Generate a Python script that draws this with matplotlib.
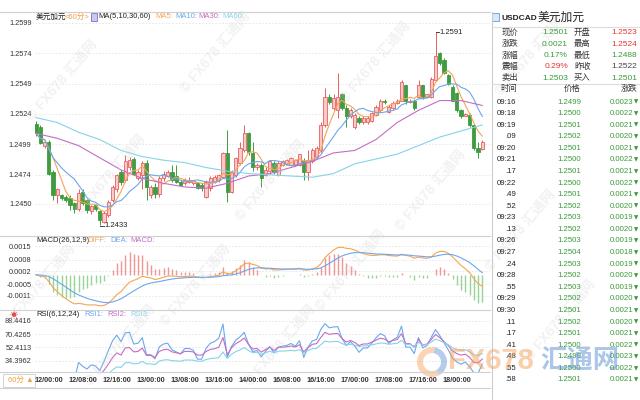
import matplotlib
matplotlib.use("Agg")
import matplotlib.pyplot as plt
from matplotlib.lines import Line2D
from matplotlib.patches import Rectangle, Wedge
from matplotlib.transforms import IdentityTransform
import pandas as pd

plt.rcParams['font.family'] = ['Liberation Sans', 'Noto Sans CJK SC', 'DejaVu Sans']

# 60 minute candles, USDCAD
opens = [1.2516, 1.2513, 1.2498, 1.2501, 1.2476, 1.2457, 1.2457, 1.2456, 1.2455, 1.2451,
         1.2446, 1.2460, 1.2453, 1.2444, 1.2449, 1.2444, 1.2435, 1.2441, 1.2453, 1.2462,
         1.2476, 1.2470, 1.2480, 1.2487, 1.2471, 1.2474, 1.2484, 1.2457, 1.2464, 1.2458,
         1.2471, 1.2473, 1.2476, 1.2473, 1.2468, 1.2467, 1.2468, 1.2467, 1.2467, 1.2466,
         1.2456, 1.2463, 1.2468, 1.2470, 1.2472, 1.2492, 1.2460, 1.2474, 1.2484, 1.2494,
         1.2508, 1.2492, 1.2480, 1.2482, 1.2474, 1.2477, 1.2484, 1.2474, 1.2482, 1.2483,
         1.2482, 1.2482, 1.2482, 1.2485, 1.2476, 1.2485, 1.2489, 1.2494, 1.2515, 1.2538,
         1.2529, 1.2527, 1.2540, 1.2529, 1.2522, 1.2513, 1.2521, 1.2517, 1.2517, 1.2518,
         1.2523, 1.2527, 1.2535, 1.2526, 1.2529, 1.2533, 1.2535, 1.2548, 1.2534, 1.2535,
         1.2538, 1.2548, 1.2538, 1.2538, 1.2552, 1.2574, 1.2568, 1.2556, 1.2546, 1.2541,
         1.2527, 1.2522, 1.2523, 1.2515, 1.2496, 1.2495]
highs = [1.2518, 1.2515, 1.2503, 1.2503, 1.2478, 1.2463, 1.2458, 1.2457, 1.2457, 1.2452,
         1.2462, 1.2462, 1.2454, 1.2449, 1.2450, 1.2445, 1.2444, 1.2453, 1.2466, 1.2475,
         1.2478, 1.2490, 1.2489, 1.2489, 1.2478, 1.2485, 1.2486, 1.2466, 1.2467, 1.2473,
         1.2477, 1.2478, 1.2482, 1.2482, 1.2470, 1.2471, 1.2472, 1.2470, 1.2468, 1.2467,
         1.2470, 1.2473, 1.2474, 1.2475, 1.2493, 1.2511, 1.2478, 1.2489, 1.2501, 1.2515,
         1.2509, 1.2501, 1.2484, 1.2484, 1.2480, 1.2486, 1.2485, 1.2485, 1.2486, 1.2487,
         1.2489, 1.2487, 1.2491, 1.2488, 1.2494, 1.2496, 1.2498, 1.2517, 1.2545, 1.2540,
         1.2540, 1.2558, 1.2541, 1.2531, 1.2529, 1.2525, 1.2522, 1.2522, 1.2522, 1.2526,
         1.2531, 1.2536, 1.2536, 1.2531, 1.2535, 1.2536, 1.2552, 1.2548, 1.2536, 1.2536,
         1.2552, 1.2548, 1.2540, 1.2554, 1.2591, 1.2575, 1.2570, 1.2557, 1.2548, 1.2542,
         1.2528, 1.2525, 1.2525, 1.2516, 1.2501, 1.2503]
lows = [1.2506, 1.2499, 1.2496, 1.2474, 1.2453, 1.2451, 1.2453, 1.2452, 1.2445, 1.2443,
        1.2444, 1.2449, 1.2443, 1.2442, 1.2444, 1.2433, 1.2434, 1.2439, 1.2452, 1.2460,
        1.2466, 1.2468, 1.2478, 1.2474, 1.2470, 1.2462, 1.2453, 1.2455, 1.2455, 1.2456,
        1.2469, 1.2472, 1.2468, 1.2467, 1.2465, 1.2466, 1.2467, 1.2466, 1.2462, 1.2461,
        1.2455, 1.2461, 1.2467, 1.2468, 1.2471, 1.2452, 1.2459, 1.2472, 1.2482, 1.2493,
        1.2490, 1.2477, 1.2478, 1.2464, 1.2473, 1.2475, 1.2475, 1.2473, 1.2481, 1.2482,
        1.2481, 1.2481, 1.2481, 1.2470, 1.2470, 1.2484, 1.2488, 1.2493, 1.2513, 1.2532,
        1.2527, 1.2521, 1.2527, 1.2513, 1.2521, 1.2512, 1.2516, 1.2516, 1.2516, 1.2517,
        1.2522, 1.2526, 1.2532, 1.2525, 1.2528, 1.2532, 1.2535, 1.2532, 1.2533, 1.2527,
        1.2537, 1.2536, 1.2537, 1.2537, 1.2551, 1.2564, 1.2557, 1.2548, 1.2535, 1.2526,
        1.2521, 1.2522, 1.2513, 1.2494, 1.2488, 1.2494]
closes = [1.2508, 1.2500, 1.2501, 1.2475, 1.2457, 1.2462, 1.2455, 1.2453, 1.2449, 1.2446,
          1.2459, 1.2451, 1.2445, 1.2448, 1.2446, 1.2437, 1.2443, 1.2452, 1.2464, 1.2474,
          1.2468, 1.2485, 1.2486, 1.2475, 1.2476, 1.2484, 1.2464, 1.2464, 1.2458, 1.2471,
          1.2475, 1.2476, 1.2470, 1.2468, 1.2466, 1.2470, 1.2470, 1.2469, 1.2463, 1.2463,
          1.2468, 1.2471, 1.2472, 1.2474, 1.2492, 1.2460, 1.2476, 1.2488, 1.2496, 1.2508,
          1.2493, 1.2480, 1.2482, 1.2471, 1.2478, 1.2485, 1.2476, 1.2484, 1.2485, 1.2486,
          1.2488, 1.2486, 1.2491, 1.2476, 1.2486, 1.2494, 1.2496, 1.2515, 1.2538, 1.2534,
          1.2537, 1.2538, 1.2529, 1.2522, 1.2527, 1.2523, 1.2517, 1.2521, 1.2521, 1.2525,
          1.2530, 1.2535, 1.2534, 1.2530, 1.2533, 1.2535, 1.2550, 1.2535, 1.2535, 1.2529,
          1.2548, 1.2537, 1.2540, 1.2553, 1.2572, 1.2566, 1.2558, 1.2549, 1.2535, 1.2527,
          1.2522, 1.2524, 1.2515, 1.2496, 1.2493, 1.2501]

# long averages every 5 candles
ma_idx = list(range(0, 106, 5))
ma30 = [1.2508, 1.2504, 1.2498, 1.2488, 1.2478, 1.2471, 1.2467, 1.2464, 1.2463, 1.2467, 1.2473,
        1.2475, 1.2480, 1.2485, 1.2492, 1.2494, 1.2503, 1.2517, 1.2527, 1.2535, 1.2535, 1.2531]
ma60 = [1.2521, 1.2517, 1.2509, 1.2503, 1.2494, 1.2489, 1.2486, 1.2484, 1.2480, 1.2477, 1.2475,
        1.2474, 1.2473, 1.2472, 1.2475, 1.2483, 1.2487, 1.2491, 1.2498, 1.2505, 1.2510, 1.2515]

time_labels = ['12/00:00', '12/08:00', '12/16:00', '13/00:00', '13/08:00', '13/16:00', '14/00:00',
               '16/08:00', '16/16:00', '17/00:00', '17/08:00', '17/16:00', '18/00:00']
price_ticks = [1.2599, 1.2574, 1.2549, 1.2524, 1.2499, 1.2474, 1.2450]
macd_ticks = [0.0015, 0.0008, 0.0002, -0.0005, -0.0011]
rsi_ticks = [88.4416, 70.4265, 52.4113, 34.3962]

quote_names_l = ['现价', '涨跌', '涨幅', '震幅', '卖出']
quote_vals_l = ['1.2501', '0.0021', '0.17%', '0.29%', '1.2503']
quote_names_r = ['开盘', '最高', '最低', '昨收', '买入']
quote_vals_r = ['1.2523', '1.2524', '1.2488', '1.2522', '1.2501']

tick_times = ['09:16', '09:18', '09:19', '.09', '09:20', '09:21', '.17', '09:22', '.49', '.52',
              '09:23', '.13', '09:26', '09:27', '.24', '09:28', '.55', '09:29', '09:30', '.11',
              '.17', '.41', '.48', '.55', '.58']
tick_prices = ['1.2499', '1.2500', '1.2501', '1.2502', '1.2501', '1.2500', '1.2501', '1.2500',
               '1.2501', '1.2502', '1.2503', '1.2502', '1.2503', '1.2504', '1.2503', '1.2502',
               '1.2503', '1.2502', '1.2501', '1.2502', '1.2501', '1.2500', '1.2499', '1.2500',
               '1.2501']
tick_changes = ['0.0023', '0.0022', '0.0021', '0.0020', '0.0021', '0.0022', '0.0021', '0.0022',
                '0.0021', '0.0020', '0.0019', '0.0020', '0.0019', '0.0018', '0.0019', '0.0020',
                '0.0019', '0.0020', '0.0021', '0.0020', '0.0021', '0.0022', '0.0023', '0.0022',
                '0.0021']

RED_EDGE = '#e8605f'
RED_FACE = '#f9caca'
GREEN = '#3f9c3f'
C_MA5 = '#f3a555'
C_MA10 = '#6aa8ee'
C_MA30 = '#c46cc4'
C_MA60 = '#86d3ea'
TXT_GREEN = '#3a9a3a'
TXT_RED = '#e83535'

W, H = 640, 400
fig = plt.figure(figsize=(6.4, 4), dpi=100)
fig.patch.set_facecolor('white')


def rect(x0, y0, x1, y1):
    return [x0 / W, 1 - y1 / H, (x1 - x0) / W, (y1 - y0) / H]


def ftext(x, y, s, **kw):
    kw.setdefault('va', 'center')
    kw.setdefault('fontsize', 5.5)
    fig.text(x / W, 1 - y / H, s, **kw)


def hline(x0, x1, y, color='#d0d0d0', lw=0.8):
    fig.add_artist(Line2D([x0 / W, x1 / W], [1 - y / H] * 2, color=color, lw=lw,
                          transform=fig.transFigure))


n = len(closes)
xlim = (-1 / 4.25, 454 / 4.25)


def style(ax, ticks, labels, ylim):
    ax.set_xlim(*xlim)
    ax.set_ylim(*ylim)
    ax.set_xticks([])
    ax.set_yticks(ticks)
    ax.set_yticklabels(labels)
    ax.tick_params(axis='y', length=0, pad=2.5, labelsize=5.3, labelcolor='#333333')
    for s in ax.spines.values():
        s.set_visible(False)
    ax.grid(axis='y', color='#e4e4e4', linestyle=(0, (2, 2)), linewidth=0.6)
    ax.set_facecolor('none')


# faint watermarks
for wx, wy in [(62, 80), (215, 52), (375, 62), (530, 55), (110, 175), (270, 180), (430, 190),
               (40, 285), (195, 285), (350, 270), (520, 230), (120, 345), (280, 345), (560, 320)]:
    ftext(wx, wy, '© FX678 汇通网', fontsize=10, rotation=50, color='#d4d4d4', alpha=0.3,
          ha='center', fontweight='bold')

# main price panel
ax = fig.add_axes(rect(35, 12, 490, 236))
style(ax, price_ticks, ['%.4f' % t for t in price_ticks], (1.24237, 1.26078))
for i in range(n):
    o, h, l, c = opens[i], highs[i], lows[i], closes[i]
    up = c >= o
    edge = RED_EDGE if up else GREEN
    ax.vlines(i, l, h, color=edge, lw=0.7, zorder=2)
    ax.add_patch(Rectangle((i - 0.36, min(o, c)), 0.72, max(abs(c - o), 0.00002),
                           facecolor=RED_FACE if up else GREEN, edgecolor=edge, lw=0.6, zorder=3))

cs = pd.Series(closes)
ax.plot(range(n), cs.rolling(5, min_periods=1).mean(), color=C_MA5, lw=0.8, zorder=4)
ax.plot(range(n), cs.rolling(10, min_periods=1).mean(), color=C_MA10, lw=0.8, zorder=4)
ax.plot(ma_idx, ma30, color=C_MA30, lw=0.8, zorder=4)
ax.plot(ma_idx, ma60, color=C_MA60, lw=0.8, zorder=4)

hi = max(range(n), key=lambda k: highs[k])
lo = min(range(n), key=lambda k: lows[k])
ax.plot([hi, hi + 0.9], [highs[hi]] * 2, color='#222222', lw=0.6)
ax.text(hi + 1.0, highs[hi], '%.4f' % highs[hi], fontsize=5.5, va='center', color='#222222')
ax.plot([lo, lo + 0.9], [lows[lo] - 0.0001] * 2, color='#222222', lw=0.6)
ax.text(lo + 1.0, lows[lo] - 0.0001, '%.4f' % lows[lo], fontsize=5.5, va='center', color='#222222')

# MACD panel
diff = cs.ewm(span=12, adjust=False).mean() - cs.ewm(span=26, adjust=False).mean()
dea = diff.ewm(span=9, adjust=False).mean()
hist = 2 * (diff - dea)
ax2 = fig.add_axes(rect(35, 236, 490, 310))
style(ax2, macd_ticks, ['%.4f' % t for t in macd_ticks], (-0.00185, 0.00204))
ax2.vlines(range(n), 0, hist, colors=['#f09595' if v >= 0 else '#98d498' for v in hist], lw=1.0)
ax2.plot(range(n), diff, color=C_MA5, lw=0.8)
ax2.plot(range(n), dea, color=C_MA10, lw=0.8)

# RSI panel
chg = cs.diff()


def rsi(p):
    up = chg.clip(lower=0).ewm(alpha=1 / p, adjust=False).mean()
    tot = chg.abs().ewm(alpha=1 / p, adjust=False).mean()
    return 100 * up / tot


ax3 = fig.add_axes(rect(35, 310, 490, 372))
style(ax3, rsi_ticks, ['%.4f' % t for t in rsi_ticks], (19.0, 103.4))
ax3.plot(range(n), rsi(6), color=C_MA10, lw=0.8)
ax3.plot(range(n), rsi(12), color=C_MA30, lw=0.8)
ax3.plot(range(n), rsi(24), color=C_MA60, lw=0.8)

# time axis
for k, lab in enumerate(time_labels):
    ftext(36 + 4.25 * (3 + 8 * k), 380, lab, ha='center', fontsize=5.2, fontweight='bold',
          color='#333333')

# frame lines
hline(0, 490, 12)
hline(0, 490, 236)
hline(0, 490, 310)
hline(0, 490, 372)
hline(0, 490, 388)
fig.add_artist(Line2D([492 / W] * 2, [0, 1 - 12 / H], color='#cccccc', lw=0.8,
                      transform=fig.transFigure))
fig.add_artist(Rectangle((3 / W, 1 - 387 / H), 32 / W, 13 / H, facecolor='white',
                         edgecolor='#cccccc', lw=0.6, transform=fig.transFigure))
ftext(8, 380, '60分 ▲', color='#f0a040', fontsize=5.5)

# panel titles
ftext(36, 17, '美元加元', color='#222222')
ftext(65, 17, '<60分>', color='#f0a040')
fig.add_artist(Rectangle((91 / W, 1 - 21 / H), 6 / W, 8 / H, facecolor='#c8c8f0',
                         edgecolor='#6060c0', lw=0.5, transform=fig.transFigure))
ftext(98, 17, 'MA(5,10,30,60)', color='#222222')
ftext(155, 17, 'MA5:', color=C_MA5)
ftext(175, 17, 'MA10:', color=C_MA10)
ftext(198, 17, 'MA30:', color=C_MA30)
ftext(222, 17, 'MA60:', color=C_MA60)

ftext(36, 240, 'MACD(26,12,9)', color='#222222')
ftext(87, 240, 'DIFF:', color=C_MA5)
ftext(110, 240, 'DEA:', color=C_MA10)
ftext(130, 240, 'MACD:', color=C_MA30)

ftext(10, 316, '☀', color='#e05050', fontsize=6)
ftext(36, 315, 'RSI(6,12,24)', color='#222222')
ftext(84, 315, 'RSI1:', color=C_MA10)
ftext(107, 315, 'RSI2:', color=C_MA30)
ftext(130, 315, 'RSI3:', color=C_MA60)

# right quote panel
fig.add_artist(Rectangle((492 / W, 1 - 21 / H), 7 / W, 8 / H, facecolor='#d8e8f8',
                         edgecolor='#4a8ad0', lw=0.5, transform=fig.transFigure))
ftext(502, 18, 'USDCAD', fontsize=6, fontweight='bold', color='#222222')
ftext(538, 18, '美元加元', fontsize=8.5, color='#222222')
hline(492, 640, 27, color='#dddddd')
left_cols = [TXT_GREEN, TXT_GREEN, TXT_GREEN, TXT_RED, TXT_GREEN]
right_cols = [TXT_RED, TXT_RED, TXT_GREEN, '#444444', TXT_GREEN]
for k in range(5):
    y = 33 + 11.25 * k
    ftext(502, y, quote_names_l[k], color='#333333', fontsize=6)
    ftext(568, y, quote_vals_l[k], color=left_cols[k], ha='right', fontsize=6)
    ftext(574, y, quote_names_r[k], color='#333333', fontsize=6)
    ftext(637, y, quote_vals_r[k], color=right_cols[k], ha='right', fontsize=6)
hline(492, 640, 84, color='#dddddd')
ftext(500, 89, '时间', color='#333333', fontsize=6)
ftext(572, 89, '价格', color='#333333', fontsize=6, ha='center')
ftext(637, 89, '涨跌', color='#333333', fontsize=6, ha='right')
for k in range(len(tick_times)):
    y = 102 + 11.58 * k
    ftext(516, y, tick_times[k], color='#222222', ha='right', fontsize=5.6)
    ftext(581, y, tick_prices[k], color=TXT_GREEN, ha='right', fontsize=5.6)
    ftext(633, y, tick_changes[k], color=TXT_GREEN, ha='right', fontsize=5.6)
    ftext(634, y, '▼', color=TXT_GREEN, fontsize=4, family='DejaVu Sans')

# big logo bottom right
ident = IdentityTransform()
fig.add_artist(Wedge((432, H - 362), 15, 80, 300, width=6, facecolor='#f5a05a', alpha=0.45,
                     transform=ident))
fig.add_artist(Wedge((432, H - 362), 15, 300, 440, width=6, facecolor='#5b8fd6', alpha=0.45,
                     transform=ident))
ftext(448, 361, 'FX678', fontsize=21, fontweight='bold', color='#f5a05a', alpha=0.5)
ftext(540, 361, '汇通网', fontsize=19, fontweight='bold', color='#5b8fd6', alpha=0.5)

fig.savefig('out.png', dpi=100)
